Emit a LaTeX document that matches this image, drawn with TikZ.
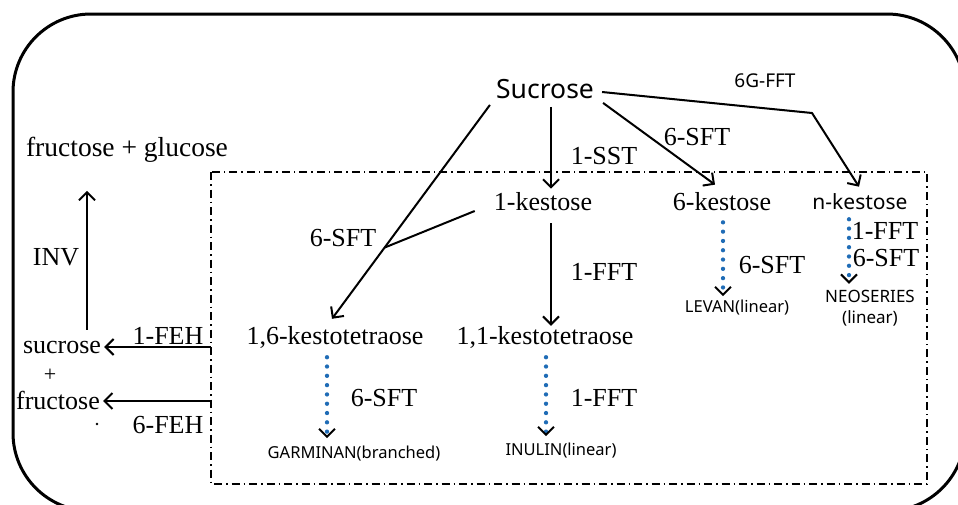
\documentclass[tikz,border=0pt]{standalone}
\usepackage{fontspec}
\setmainfont{Liberation Serif}
\newfontfamily\sansf{Noto Sans}
\usetikzlibrary{arrows.meta,calc}

\definecolor{dotblue}{RGB}{31,108,182}

\tikzset{
  big/.style={font=\fontsize{26}{28}\selectfont, inner sep=1pt},
  sbig/.style={font=\sansf\fontsize{26.5}{28}\selectfont, inner sep=1pt},
  smid/.style={font=\sansf\fontsize{19}{21}\selectfont, inner sep=1pt},
  ssmall/.style={font=\sansf\fontsize{16.5}{21}\selectfont, inner sep=1pt, align=center},
  arr/.style={line width=2pt, -{Straight Barb[length=8pt,width=16pt,line width=2pt]}},
  plain/.style={line width=2pt},
  dotarr/.style={dotblue, line width=4.3pt, line cap=round, dash pattern=on 0pt off 9.3pt,
    -{Straight Barb[color=black,length=8pt,width=16pt,line width=2pt]}},
  frame/.style={line width=3pt, rounded corners=78pt},
  boxline/.style={line width=1.4pt, dash pattern=on 8pt off 4pt on 1.5pt off 4pt}
}

\begin{document}
\begin{tikzpicture}[x=1pt,y=-1pt]
\useasboundingbox (0,0) rectangle (958,504);
\clip (0,0) rectangle (958,504);
\fill[white] (0,0) rectangle (958,504);

% outer frame and the dash-dot region
\draw[frame] (13,14) rectangle (965,511);
\coordinate (bx1) at (211,172);
\coordinate (bx2) at (927,484);
\draw[boxline] (bx1) rectangle (bx2);

% substrates and products
\node[sbig] (suc) at (545,89) {Sucrose};
\node[big] (k1) at (543,202) {1-kestose};
\node[big] (k6) at (722,202) {6-kestose};
\node[smid, font=\sansf\fontsize{21}{23}\selectfont] (kn) at (860,202) {n-kestose};
\node[big] (k16) at (335,337) {1,6-kestotetraose};
\node[big] (k11) at (545,337) {1,1-kestotetraose};
\node[ssmall] (gar) at (354,454) {GARMINAN(branched)};
\node[ssmall] (inu) at (561,451) {INULIN(linear)};
\node[ssmall] (lev) at (737,308) {LEVAN(linear)};
\node[ssmall, font=\sansf\fontsize{17}{21}\selectfont] (neo) at (870,308) {NEOSERIES\\(linear)};
\node[big, font=\fontsize{27.5}{30}\selectfont] (fg) at (127,150) {fructose + glucose};
\node[big] (s2) at (62,347) {sucrose};
\node[inner sep=0pt, font=\fontsize{22}{24}\selectfont] (plus) at (50,375) {+};
\node[big, inner sep=0pt] (fr) at (58,400) {fructose};
% stray dot below the lower arrow
\fill (97,424) circle (1.4);

% enzyme labels
\node[smid] (e6g) at (765,81) {6G-FFT};
\node[big] (esst) at (604,156) {1-SST};
\node[big] (esftA) at (697,137) {6-SFT};
\node[big] (esftB) at (343,238) {6-SFT};
\node[big] (efftA) at (604,272) {1-FFT};
\node[big] (esftC) at (384,398) {6-SFT};
\node[big] (efftB) at (604,398) {1-FFT};
\node[big] (esftD) at (772,265) {6-SFT};
\node[big] (efftC) at (885,231) {1-FFT};
\node[big] (esftE) at (886,258) {6-SFT};
\node[big] (einv) at (56,257) {INV};
\node[big] (efeh1) at (168,336) {1-FEH};
\node[big] (efeh6) at (168,425) {6-FEH};

% sucrose branches
\draw[arr] ([shift={(6,7)}]suc.south) -- ([shift={(8,-3)}]k1.north);
\draw[arr] ([shift={(8,3)}]suc.south east) -- ([shift={(-7,-7)}]k6.north);
\coordinate (bn) at (812,113);
\draw[arr] ([shift={(7,3)}]suc.east) -- (bn) -- ([shift={(-1,-6)}]kn.north);
\coordinate (ls) at ([shift={(-5,5)}]suc.south west);
\coordinate (le) at ([shift={(-3,-6)}]k16.north);
\draw[arr] (ls) -- (le);
\coordinate (jn) at ($(ls)!0.667!(le)$);
\draw[plain] ([shift={(-18,9)}]k1.west) -- (jn);
\draw[arr] ([shift={(8,11)}]k1.south) -- ([shift={(6,1)}]k11.north);

% polymer chain extension
\draw[dotarr] ([shift={(-8,8)}]k16.south) -- ([shift={(-27,-7)}]gar.north);
\draw[dotarr] ([shift={(1,8)}]k11.south) -- ([shift={(-15,-6)}]inu.north);
\draw[dotarr] ([shift={(1,10)}]k6.south) -- ([shift={(-14,-3)}]lev.north);
\draw[dotarr] ([shift={(-11,8)}]kn.south) -- ([shift={(-21,-5)}]neo.north);

% hydrolysis
\draw[arr] ([shift={(25,-10)}]s2.north) -- ([shift={(-40,27)}]fg.south);
\draw[arr] (bx1 |- s2.east) -- ([xshift=2pt]s2.east);
\draw[arr] (bx1 |- 0,401) -- ([xshift=3pt]fr.east |- 0,401);
\end{tikzpicture}
\end{document}
